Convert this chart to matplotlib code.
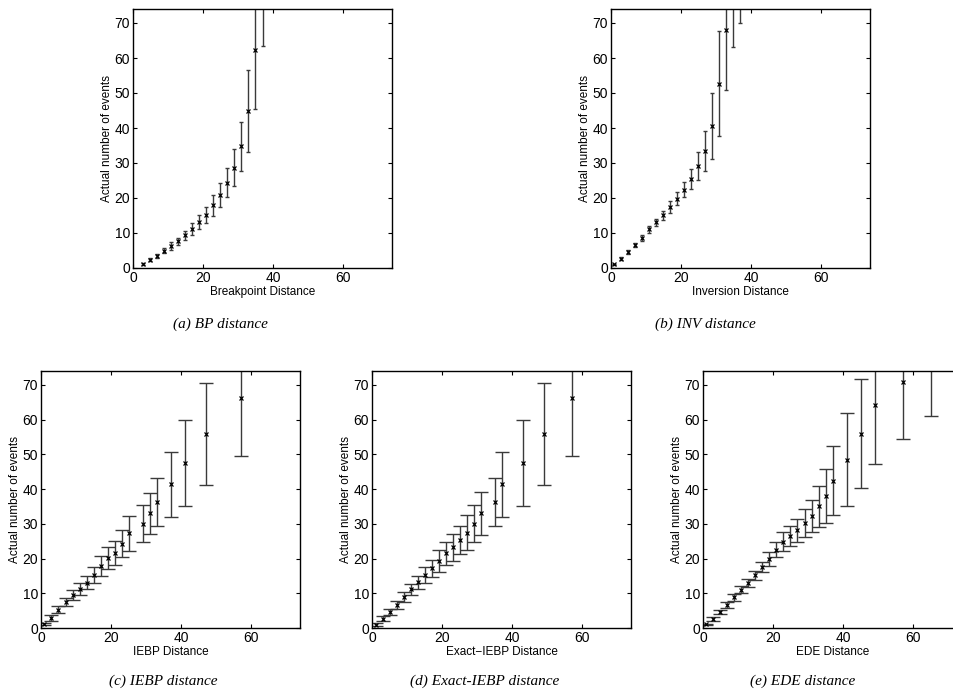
import matplotlib
matplotlib.use('Agg')
import matplotlib.pyplot as plt

plt.rcParams['font.family'] = ['Liberation Sans', 'DejaVu Sans']

# (a) Breakpoint distance
bp_x = [3, 5, 7, 9, 11, 13, 15, 17, 19, 21, 23, 25, 27, 29, 31, 33, 35, 37]
bp_y = [1.1, 2.4, 3.5, 4.9, 6.2, 7.7, 9.3, 11.1, 13.1, 15.2, 17.9, 20.8,
        24.4, 28.7, 34.8, 44.9, 62.2, 85.0]
bp_err = [0.3, 0.4, 0.6, 0.7, 1.1, 1.0, 1.4, 1.8, 2.0, 2.3, 3.0, 3.5,
          4.1, 5.3, 7.0, 11.8, 16.8, 21.5]

# (b) Inversion distance
inv_x = [1, 3, 5, 7, 9, 11, 13, 15, 17, 19, 21, 23, 25, 27, 29, 31, 33, 35, 37]
inv_y = [1.0, 2.7, 4.5, 6.5, 8.6, 11.0, 13.0, 15.1, 17.4, 19.8, 22.4, 25.5,
         29.1, 33.4, 40.5, 52.7, 67.9, 80.0, 90.0]
inv_err = [0.2, 0.4, 0.5, 0.6, 0.8, 1.0, 1.1, 1.3, 1.6, 1.9, 2.2, 2.9,
           4.0, 5.6, 9.4, 15.0, 17.0, 17.0, 20.0]

# (c) IEBP distance
iebp_x = [1, 3, 5, 7, 9, 11, 13, 15, 17, 19, 21, 23, 25, 29, 31, 33, 37, 41, 47, 57]
iebp_y = [1.15, 2.9, 5.3, 7.4, 9.4, 11.2, 13.1, 15.4, 17.9, 20.1, 21.6, 24.3,
          27.3, 30.0, 33.0, 36.3, 41.4, 47.5, 55.8, 66.2]
iebp_err = [0.4, 0.8, 0.9, 1.2, 1.4, 1.7, 1.9, 2.3, 2.8, 3.2, 3.4, 3.8,
            5.0, 5.3, 6.0, 7.0, 9.4, 12.4, 14.7, 16.6]

# (d) Exact-IEBP distance
exact_x = [1, 3, 5, 7, 9, 11, 13, 15, 17, 19, 21, 23, 25, 27, 29, 31, 35, 37,
           43, 49, 57]
exact_y = [1.0, 2.7, 4.6, 6.6, 8.9, 11.1, 13.2, 15.4, 17.2, 19.3, 21.5, 23.2,
           25.3, 27.4, 30.0, 33.0, 36.3, 41.4, 47.5, 55.8, 66.2]
exact_err = [0.3, 0.7, 0.8, 1.1, 1.4, 1.7, 1.9, 2.3, 2.5, 3.2, 3.4, 3.8,
             4.0, 5.0, 5.3, 6.2, 7.0, 9.4, 12.4, 14.7, 16.6]

# (e) EDE distance
ede_x = [1, 3, 5, 7, 9, 11, 13, 15, 17, 19, 21, 23, 25, 27, 29, 31, 33, 35, 37,
         41, 45, 49, 57, 65]
ede_y = [1.05, 2.7, 4.6, 6.7, 8.8, 11.0, 13.0, 15.2, 17.5, 19.8, 22.6, 24.8,
         26.5, 28.1, 30.3, 32.2, 35.0, 38.0, 42.4, 48.5, 56.0, 64.3, 70.9, 79.0]
ede_err = [0.2, 0.6, 0.7, 0.8, 0.9, 1.0, 1.1, 1.3, 1.5, 2.0, 2.2, 2.7,
           2.9, 3.3, 4.1, 4.7, 5.8, 7.7, 9.9, 13.4, 15.8, 17.1, 16.6, 18.0]

x_labels = ['Breakpoint Distance', 'Inversion Distance', 'IEBP Distance',
            'Exact\u2212IEBP Distance', 'EDE Distance']
captions = ['(a) BP distance', '(b) INV distance', '(c) IEBP distance',
            '(d) Exact-IEBP distance', '(e) EDE distance']

W, H = 954, 700
fig = plt.figure(figsize=(W / 100, H / 100), dpi=100)


def px_axes(left, top, right, bottom):
    # axes box given in pixel coordinates of the target image
    return fig.add_axes([left / W, 1 - bottom / H, (right - left) / W, (bottom - top) / H])


def draw_panel(ax, x, y, err, xlabel, capsize):
    ax.errorbar(x, y, yerr=err, fmt='none', ecolor='#3a3a3a', elinewidth=1.0,
                capsize=capsize, capthick=1.0)
    ax.plot(x, y, 'x', color='black', markersize=3, markeredgewidth=0.9)
    ax.set_xlim(0, 74)
    ax.set_ylim(0, 74)
    ax.set_xticks([0, 20, 40, 60])
    ax.set_yticks(range(0, 71, 10))
    ax.tick_params(direction='in', length=3, width=0.8, top=True, right=True,
                   labelsize=10, pad=2)
    for s in ax.spines.values():
        s.set_linewidth(1.0)
    ax.set_xlabel(xlabel, fontsize=8.5, labelpad=1)
    ax.set_ylabel('Actual number of events', fontsize=8.5, labelpad=1)


ax_a = px_axes(133, 9, 392, 268)
draw_panel(ax_a, bp_x, bp_y, bp_err, x_labels[0], 1.5)
ax_b = px_axes(611, 9, 870, 268)
draw_panel(ax_b, inv_x, inv_y, inv_err, x_labels[1], 1.5)
ax_c = px_axes(41, 371, 300, 628)
draw_panel(ax_c, iebp_x, iebp_y, iebp_err, x_labels[2], 5)
ax_d = px_axes(372, 371, 631, 628)
draw_panel(ax_d, exact_x, exact_y, exact_err, x_labels[3], 5)
ax_e = px_axes(703, 371, 962, 628)
draw_panel(ax_e, ede_x, ede_y, ede_err, x_labels[4], 5)

cap_pos = [(220, 324), (705, 324), (163, 681), (485, 681), (803, 681)]
for (cx, cy), text in zip(cap_pos, captions):
    fig.text(cx / W, 1 - cy / H, text, ha='center', va='center', fontsize=11,
             style='italic', family=['Liberation Serif', 'DejaVu Serif'])

fig.savefig('out.png', dpi=100)
